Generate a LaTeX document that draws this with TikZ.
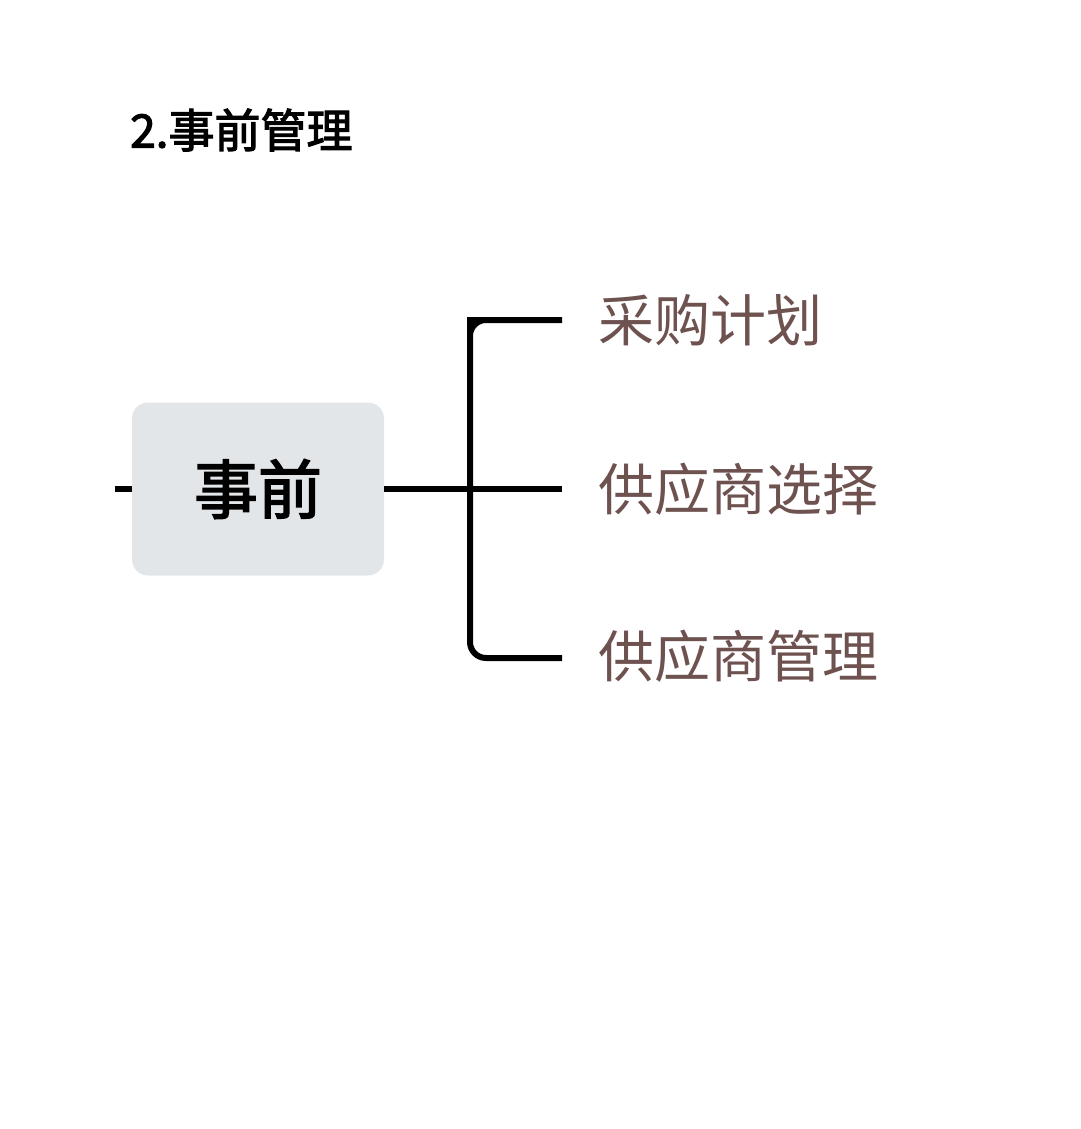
\documentclass[tikz,border=0pt]{standalone}
\usepackage{fontspec}
\newfontfamily\cjk{Noto Sans CJK SC}
\newfontfamily\cjkb[FakeBold=2.5]{Noto Sans CJK SC}
\definecolor{boxgray}{HTML}{E3E6E9}
\definecolor{lab}{HTML}{6E5250}
\tikzset{
  conn/.style={line width=6pt, black},
  leaf/.style={anchor=west, inner sep=0pt, font=\cjk\fontsize{56}{60}\selectfont, text=lab},
}
\begin{document}
\begin{tikzpicture}[x=1pt,y=-1pt]
\useasboundingbox (0,0) rectangle (1080,1129);
\node[anchor=west, inner sep=0pt, font=\cjkb\fontsize{46}{50}\selectfont] (title) at (130,130) {2.事前管理};
\node[fill=boxgray, rounded corners=16pt, minimum width=252pt, minimum height=173pt, inner sep=0pt, font=\cjkb\fontsize{64}{68}\selectfont] (root) at (258,489) {事前};
\coordinate (stub) at (115,489);
\draw[conn] (stub) -- (root.west);
\coordinate (j) at (470,489);
\node[leaf] (a) at (598,320) {采购计划};
\node[leaf] (b) at (598,489) {供应商选择};
\node[leaf] (c) at (598,656) {供应商管理};
\draw[conn] (root.east) -- (j);
\draw[conn] (562,320) -| (j);
\draw[conn, rounded corners=16pt] (562,320) -- (470,320) -- (470,658) -- (562,658);
\draw[conn] (j) -- (562,489);
\end{tikzpicture}
\end{document}
